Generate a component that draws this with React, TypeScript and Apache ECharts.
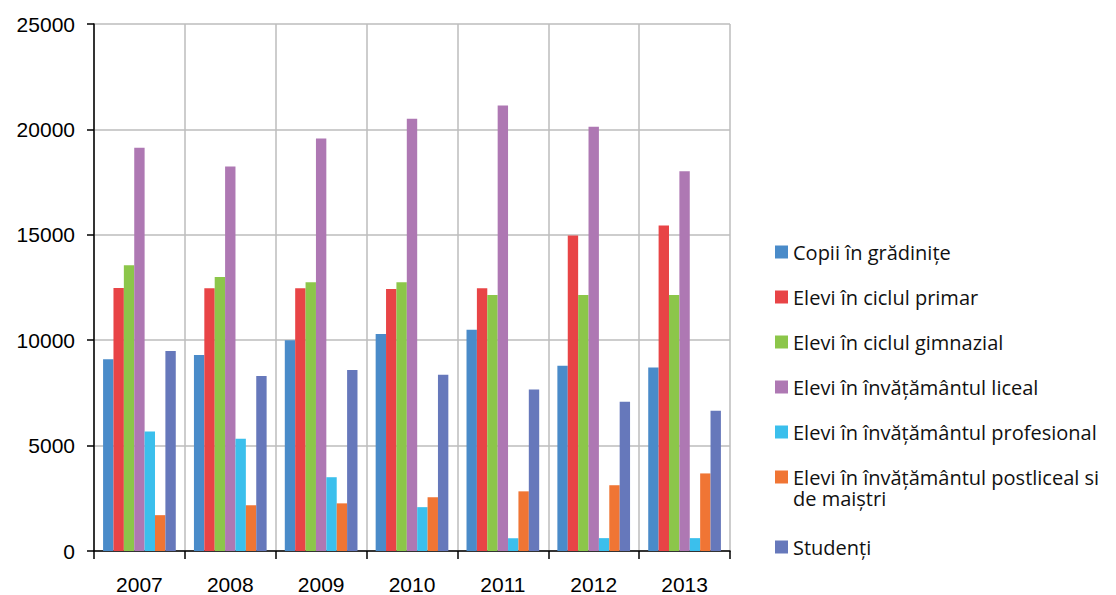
import React, { useEffect, useRef } from "react";
import * as echarts from "echarts";

const years = ["2007", "2008", "2009", "2010", "2011", "2012", "2013"];
const seriesNames = [
  "Copii în grădinițe",
  "Elevi în ciclul primar",
  "Elevi în ciclul gimnazial",
  "Elevi în învățământul liceal",
  "Elevi în învățământul profesional",
  "Elevi în învățământul postliceal si",
  "Studenți",
];
const wrappedTail = "de maiștri";
const copii = [9100, 9300, 10000, 10290, 10490, 8790, 8700];
const primar = [12480, 12470, 12470, 12430, 12470, 14970, 15440];
const gimnazial = [13550, 13000, 12750, 12750, 12140, 12140, 12140];
const liceal = [19130, 18240, 19570, 20500, 21130, 20120, 18010];
const profesional = [5670, 5330, 3500, 2080, 610, 610, 610];
const postliceal = [1700, 2170, 2260, 2550, 2830, 3120, 3680];
const studenti = [9490, 8300, 8590, 8360, 7660, 7080, 6650];
const colors = ["#4a8bc9", "#e84446", "#8cc64a", "#ae78b3", "#3bbfec", "#f07534", "#6678bb"];
const yTicks = { min: 0, max: 25000, interval: 5000 };

const legendText = {
  fontFamily: "Open Sans",
  fontSize: 20,
  color: "#111111",
  lineHeight: 22,
};

export default function App() {
  const ref = useRef<HTMLDivElement>(null);
  useEffect(() => {
    if (!ref.current) return;
    const chart = echarts.init(ref.current, null, { renderer: "svg" });
    const allData = [copii, primar, gimnazial, liceal, profesional, postliceal, studenti];
    const legendCommon = {
      orient: "vertical",
      left: 770,
      itemWidth: 13,
      itemHeight: 13,
      itemGap: 23,
      icon: "rect",
      textStyle: legendText,
    };
    chart.setOption({
      animation: false,
      backgroundColor: "#ffffff",
      color: colors,
      grid: { left: 94, top: 24, right: 386, bottom: 42, containLabel: false },
      legend: [
        { ...legendCommon, top: 236, data: seriesNames.slice(0, 6) },
        { ...legendCommon, top: 531, data: seriesNames.slice(6) },
      ],
      graphic: [
        {
          type: "text",
          x: 793,
          y: 498,
          style: {
            text: wrappedTail,
            fontFamily: "Open Sans",
            fontSize: 20,
            fill: "#111111",
            verticalAlign: "middle",
            align: "left",
          },
        },
      ],
      xAxis: {
        type: "category",
        data: years,
        boundaryGap: true,
        axisLine: { show: true, lineStyle: { color: "#000000", width: 1.5 } },
        axisTick: { show: true, length: 8, lineStyle: { color: "#000000", width: 1.5 } },
        axisLabel: {
          fontFamily: "Liberation Sans",
          fontSize: 21,
          color: "#000000",
          margin: 23,
        },
        splitLine: { show: true, lineStyle: { color: "#bdbdbd", width: 1.5 } },
      },
      yAxis: {
        type: "value",
        min: yTicks.min,
        max: yTicks.max,
        interval: yTicks.interval,
        axisLine: { show: true, lineStyle: { color: "#000000", width: 1.5 } },
        axisTick: { show: true, length: 7, lineStyle: { color: "#000000", width: 1.5 } },
        axisLabel: {
          fontFamily: "Liberation Sans",
          fontSize: 21,
          color: "#000000",
          margin: 19,
          formatter: (v: number) => String(v),
        },
        splitLine: { show: true, lineStyle: { color: "#bdbdbd", width: 1.5 } },
      },
      series: seriesNames.map((name, i) => ({
        name,
        type: "bar",
        data: allData[i],
        barGap: "0%",
        barCategoryGap: "20%",
        itemStyle: { color: colors[i] },
      })),
    });
    return () => chart.dispose();
  }, []);
  return (
    <div
      ref={ref}
      style={{ position: "fixed", left: 0, top: 0, width: 1116, height: 595, background: "#fff" }}
    />
  );
}
